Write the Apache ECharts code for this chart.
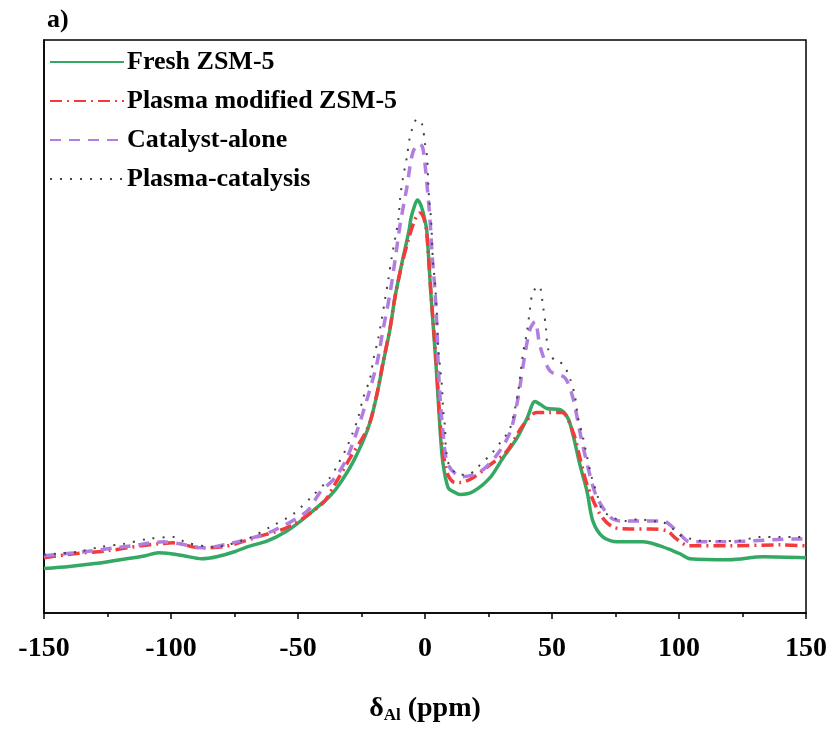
<!DOCTYPE html>
<html><head><meta charset="utf-8">
<script src="https://cdn.jsdelivr.net/npm/echarts@6/dist/echarts.min.js"></script>
<style>html,body{margin:0;padding:0;background:#fff}#c{width:836px;height:729px}</style>
</head><body><div id="c"></div>
<script>
// chemical shift (ppm) and intensity (arb. units) pairs
const freshZSM5 = [[-150,45],[-140,47],[-130,50],[-120,54],[-110,58],[-105,61],[-100,60],[-95,58],[-88,55],[-82,57],[-75,62],[-70,67],[-62,73],[-55,82],[-49,93],[-42,108],[-38,117],[-34.6,127],[-28.3,153],[-22.4,187],[-19,220],[-16.5,253],[-13.8,287],[-11.8,320],[-9.2,353],[-6.3,387],[-5.5,400],[-4,413],[-3,418],[-2,415],[-1,408],[0,397],[0.7,387],[2.4,320],[4.3,253],[5.9,187],[7,153],[9.1,127],[11.8,122],[13.8,120],[19,123],[25.6,137],[30.7,157],[36.2,177],[40.2,197],[43.3,214],[45.5,211],[48,207],[53,206],[56.3,197],[58.3,180],[61,150],[63.8,123],[66.1,93],[70,77],[75.6,72],[85.8,72],[92.5,68],[97.6,63],[100.4,60],[104.3,55],[120,54],[133,57],[150,56]];
const plasmaModified = [[-150,56],[-138,60],[-125,63],[-112,68],[-105,70],[-99,71],[-88.6,66],[-79.5,67],[-66,77],[-53,88],[-40,112],[-36,128],[-29.5,157],[-22.4,188],[-19,221],[-16.5,254],[-13.8,288],[-11.8,320],[-9.2,352],[-6.3,380],[-4,398],[-2,405],[-1,403],[0,395],[0.7,385],[2.4,322],[4.3,258],[5.9,195],[7,165],[9,140],[11.8,132],[13.8,132],[18.9,137],[25.6,150],[32,163],[38.6,190],[44,203],[49,203],[54,203],[58.3,183],[61,157],[63.8,130],[68.9,100],[74,87],[80.7,85],[88.6,85],[95.3,83],[99,75],[104,68],[120,68],[140,69],[150,68]];
const catalystAlone = [[-150,58],[-134,62],[-115.7,68],[-103,72],[-96.5,70],[-87.4,66],[-74,72],[-60,83],[-46.5,103],[-41.3,122],[-35.4,137],[-30.7,157],[-26.4,187],[-22.4,220],[-18.9,253],[-16.5,287],[-13.8,323],[-11.8,357],[-9.8,393],[-7.2,430],[-4.7,467],[-2,475],[-0.8,470],[0.8,433],[2,397],[2.8,363],[3.9,327],[4.7,290],[5.1,257],[5.9,220],[7.1,183],[9.1,150],[14.6,138],[21.7,143],[28.3,160],[33.5,183],[36.6,217],[38.6,250],[41.3,287],[43.3,295],[45.3,270],[49.2,245],[55.1,238],[58.3,217],[61,183],[64.2,147],[67.7,117],[74,95],[79.5,93],[87.4,93],[93.7,93],[99.2,83],[104.3,72],[117,72],[129,73],[145,75],[150,75]];
const plasmaCatalysis = [[-150,59],[-136.6,62],[-127.5,67],[-118.5,70],[-109,75],[-99,77],[-93.7,71],[-83.5,67],[-70,75],[-61,87],[-52,100],[-44.5,118],[-37.4,137],[-34.8,148],[-31.1,166],[-28.5,182],[-26.4,197],[-24.4,217],[-21.7,237],[-20.3,257],[-18.4,278],[-17,298],[-15.7,318],[-14.4,338],[-13.1,360],[-10.5,398],[-9.8,420],[-8.7,440],[-7.1,462],[-5.9,482],[-3.1,500],[-1.2,495],[0,475],[0.8,462],[1.2,440],[1.6,420],[2.4,398],[3.1,357],[3.9,335],[4.7,302],[5.1,270],[5.9,250],[6.7,228],[7.1,207],[7.9,187],[8.3,165],[9.8,148],[13.8,140],[16.9,140],[20.5,147],[26.4,162],[29.5,172],[33.5,187],[36.6,223],[38.6,263],[40.2,285],[41.3,307],[42.5,325],[44.9,331],[46.5,310],[47.6,289],[48.4,268],[51.2,255],[54.3,252],[57.1,237],[59,220],[60.2,198],[62.2,178],[63.8,158],[65.7,137],[68.1,117],[69.7,105],[73.6,97],[79.5,93],[83.9,95],[89.4,93],[93.7,92],[97.6,85],[101.6,77],[105,75],[109.4,73],[122.8,73],[131.9,77],[139.8,77],[146.5,77],[150,77]];
const seriesNames = ['Fresh ZSM-5','Plasma modified ZSM-5','Catalyst-alone','Plasma-catalysis'];
const xTicks = [-150,-100,-50,0,50,100,150];

const serif = "'Liberation Serif','Times New Roman',serif";
const chart = echarts.init(document.getElementById('c'));
const styles = [
  {color:'#34a865', width:3.5, type:'solid'},
  {color:'#f23c3c', width:3.5, type:[12,5,2,5]},
  {color:'#b27de0', width:3.5, type:[11,8]},
  {color:'#444444', width:2, type:[2,8]}
];
const datas = [freshZSM5, plasmaModified, catalystAlone, plasmaCatalysis];
chart.setOption({
  animation:false,
  title:{text:'a)', left:42, top:2, textStyle:{fontFamily:serif, fontWeight:'bold', fontSize:26, color:'#000'}},
  grid:{left:44, right:30, top:40, bottom:109, show:true, borderColor:'#000', borderWidth:1.5},
  legend:{orient:'vertical', left:44, top:43, itemWidth:74, itemHeight:14, itemGap:11,
    itemStyle:{opacity:0},
    data:seriesNames, textStyle:{fontFamily:serif, fontWeight:'bold', fontSize:26, color:'#000', lineHeight:28, padding:[0,0,0,-2]}},
  xAxis:{type:'value', min:-150, max:150, interval:50,
    axisLine:{show:true, onZero:false, lineStyle:{color:'#000', width:1.5}},
    axisTick:{show:true, inside:false, length:6, lineStyle:{color:'#000', width:1.5}},
    minorTick:{show:true, splitNumber:2, length:4, lineStyle:{color:'#000', width:1.5}},
    splitLine:{show:false},
    axisLabel:{margin:22, fontFamily:serif, fontWeight:'bold', fontSize:28, color:'#000',
      formatter:v => xTicks.includes(v) ? String(v) : ''},
    name:'{a|δ}{b|Al}{a| (ppm)}', nameLocation:'middle', nameGap:80,
    nameTextStyle:{rich:{a:{fontFamily:serif, fontWeight:'bold', fontSize:28, color:'#000'},
      b:{fontFamily:serif, fontWeight:'bold', fontSize:17, color:'#000', padding:[14,0,0,0]}}}
  },
  yAxis:{type:'value', min:0, max:580, axisLine:{show:true, onZero:false, lineStyle:{color:'#000', width:1.5}},
    axisTick:{show:false}, axisLabel:{show:false}, splitLine:{show:false}},
  series: datas.map((d,i)=>({name:seriesNames[i], type:'line', data:d, showSymbol:false, symbol:'none', smooth:0.3,
    lineStyle:styles[i], itemStyle:{color:styles[i].color}}))
});
</script></body></html>
